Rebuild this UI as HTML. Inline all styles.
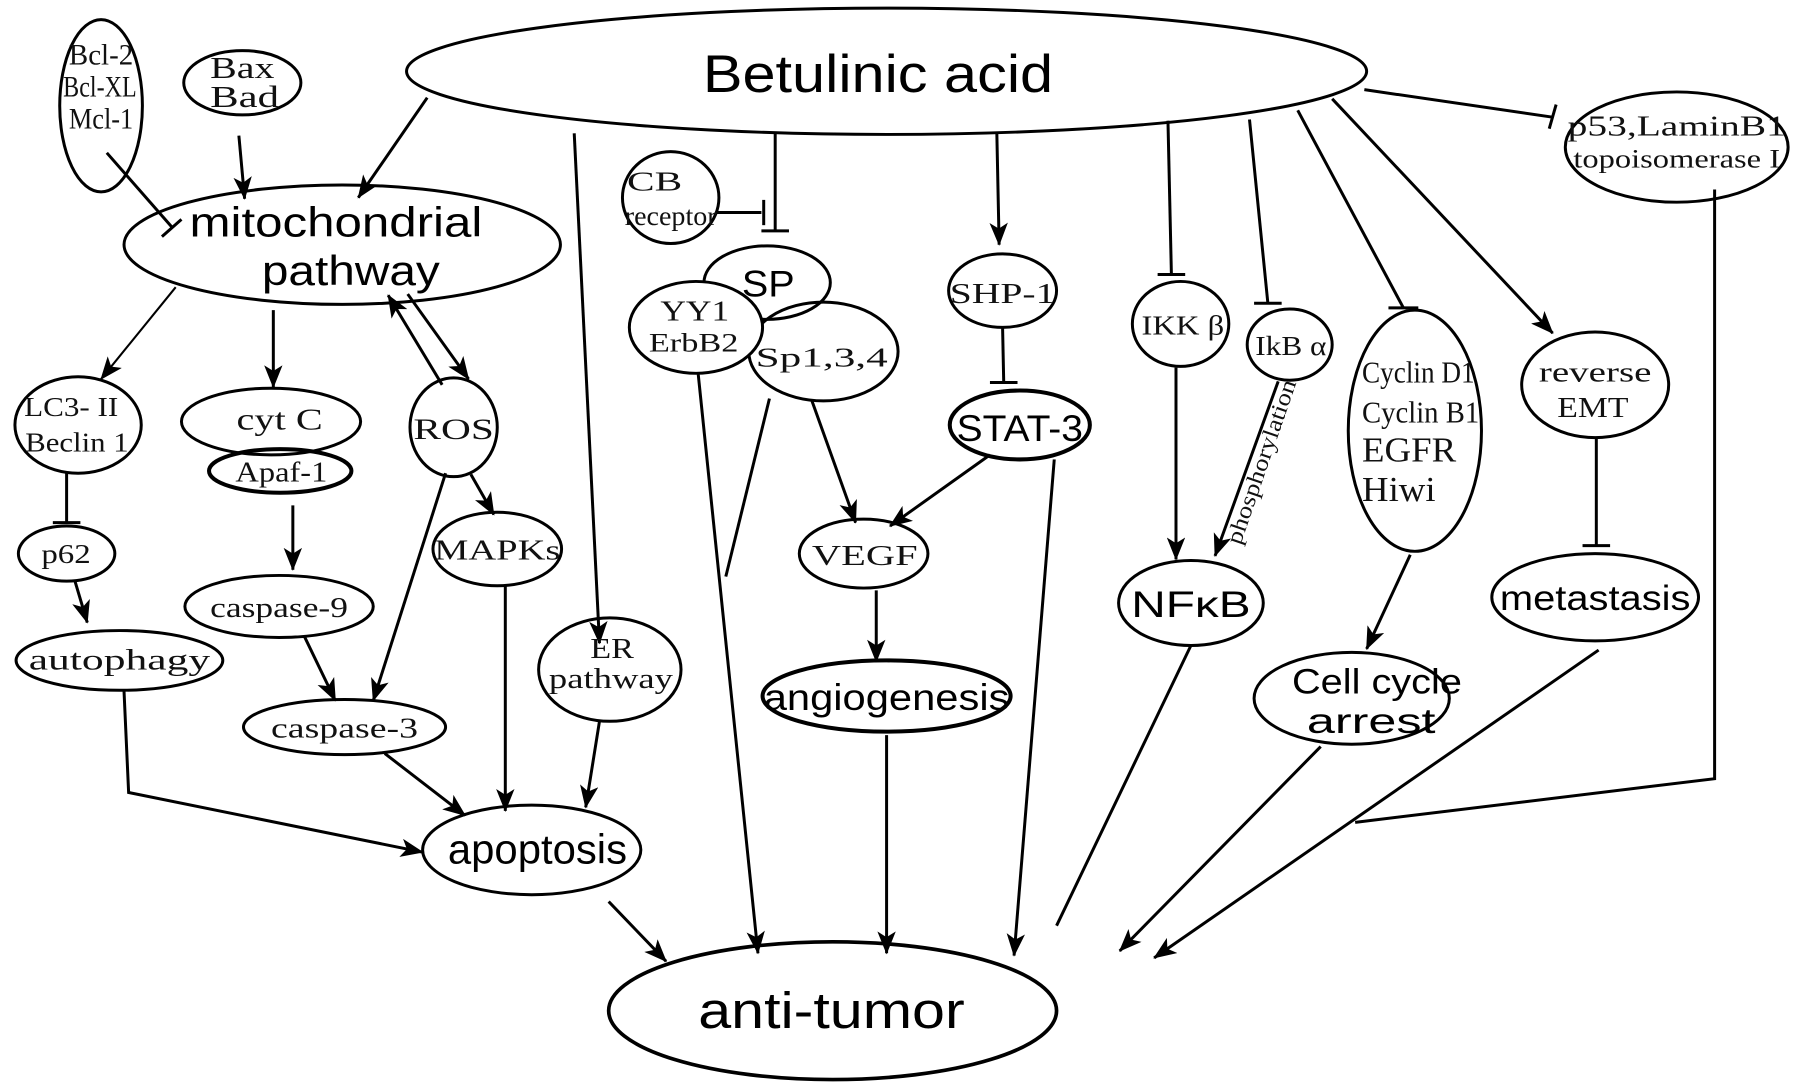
<!DOCTYPE html>
<html><head><meta charset="utf-8"><style>
html,body{margin:0;padding:0;background:#fff;}
svg{display:block;}
.s{font-family:"Liberation Serif",serif;fill:#111;}
.n{font-family:"Liberation Sans",sans-serif;fill:#000;}
</style></head><body>
<svg width="1795" height="1090" viewBox="0 0 1563 949" xmlns="http://www.w3.org/2000/svg">
<defs>
<marker id="a" viewBox="0 0 20 16" refX="19" refY="8" markerWidth="20" markerHeight="16" markerUnits="userSpaceOnUse" orient="auto">
<path d="M0,0 L20,8 L0,16 L5,8 Z" fill="#000"/></marker>
</defs>
<g fill="none" stroke="#000" stroke-width="2.6">
<ellipse cx="772" cy="62" rx="418" ry="55"/>
<ellipse cx="88" cy="92" rx="36" ry="75"/>
<ellipse cx="211" cy="72" rx="51" ry="28"/>
<ellipse cx="298" cy="213" rx="190" ry="52"/>
<ellipse cx="68" cy="370" rx="55" ry="42"/>
<ellipse cx="58" cy="482" rx="42" ry="24"/>
<ellipse cx="104" cy="575" rx="90" ry="26"/>
<ellipse cx="236" cy="367" rx="78" ry="29"/>
<ellipse cx="244" cy="410" rx="62" ry="19" stroke-width="3.5"/>
<ellipse cx="243" cy="528" rx="82" ry="27"/>
<ellipse cx="300" cy="633" rx="88" ry="24"/>
<ellipse cx="395" cy="372" rx="38" ry="43"/>
<ellipse cx="433" cy="478" rx="56" ry="32"/>
<ellipse cx="531" cy="583" rx="62" ry="45"/>
<ellipse cx="463" cy="740" rx="95" ry="39"/>
<ellipse cx="725" cy="880" rx="195" ry="60" stroke-width="3.2"/>
<ellipse cx="584" cy="172" rx="42" ry="40"/>
<ellipse cx="668" cy="246" rx="55" ry="32"/>
<ellipse cx="717" cy="306" rx="65" ry="43"/>
<ellipse cx="606" cy="285" rx="58" ry="40" fill="#fff"/>
<ellipse cx="873" cy="253" rx="47" ry="32"/>
<ellipse cx="888" cy="370" rx="61" ry="30" stroke-width="3.5"/>
<ellipse cx="752" cy="482" rx="56" ry="30"/>
<ellipse cx="772" cy="606" rx="108" ry="31" stroke-width="3.5"/>
<ellipse cx="1028" cy="282" rx="42" ry="37"/>
<ellipse cx="1123" cy="300" rx="37" ry="31"/>
<ellipse cx="1037" cy="525" rx="63" ry="37"/>
<ellipse cx="1232" cy="375" rx="58" ry="105"/>
<ellipse cx="1177" cy="608" rx="85" ry="40"/>
<ellipse cx="1389" cy="335" rx="64" ry="46"/>
<ellipse cx="1389" cy="520" rx="90" ry="38"/>
<ellipse cx="1460" cy="128" rx="97" ry="48"/>
<g marker-end="url(#a)">
<line x1="372" y1="85" x2="312" y2="172"/>
<line x1="208" y1="118" x2="213" y2="173"/>
<line x1="500" y1="116" x2="522" y2="560"/>
<line x1="868" y1="116" x2="870" y2="213"/>
<line x1="1160" y1="86" x2="1352" y2="290"/>
<line x1="153" y1="250" x2="88" y2="330" stroke-width="1.8"/>
<line x1="238" y1="270" x2="238" y2="337"/>
<line x1="385" y1="335" x2="338" y2="257"/>
<line x1="355" y1="256" x2="408" y2="330"/>
<line x1="65" y1="505" x2="76" y2="542"/>
<line x1="255" y1="440" x2="255" y2="496"/>
<line x1="265" y1="554" x2="292" y2="610"/>
<line x1="388" y1="412" x2="325" y2="610"/>
<line x1="410" y1="413" x2="430" y2="448"/>
<line x1="440" y1="510" x2="440" y2="706"/>
<line x1="335" y1="656" x2="405" y2="710"/>
<line x1="522" y1="628" x2="510" y2="703"/>
<polyline points="108,602 112,690 368,742"/>
<line x1="530" y1="785" x2="580" y2="837"/>
<line x1="608" y1="326" x2="660" y2="830"/>
<line x1="707" y1="349" x2="745" y2="455"/>
<line x1="862" y1="396" x2="775" y2="458"/>
<line x1="918" y1="400" x2="883" y2="832"/>
<line x1="763" y1="514" x2="763" y2="576"/>
<line x1="772" y1="640" x2="772" y2="830"/>
<line x1="1024" y1="320" x2="1024" y2="487"/>
<line x1="1113" y1="332" x2="1058" y2="484"/>
<line x1="1228" y1="483" x2="1190" y2="565"/>
<line x1="1150" y1="650" x2="975" y2="828"/>
<line x1="1392" y1="566" x2="1005" y2="834"/>
</g>
<line x1="93" y1="133" x2="150" y2="198"/><line x1="141" y1="206" x2="158" y2="191"/>
<line x1="675" y1="116" x2="675" y2="201"/><line x1="663" y1="201" x2="687" y2="201"/>
<line x1="624" y1="185" x2="663" y2="185"/><line x1="665" y1="174" x2="665" y2="196"/>
<line x1="873" y1="285" x2="874" y2="333"/><line x1="862" y1="333" x2="886" y2="333"/>
<line x1="1017" y1="105" x2="1020" y2="239"/><line x1="1008" y1="239" x2="1032" y2="239"/>
<line x1="1088" y1="104" x2="1104" y2="264"/><line x1="1092" y1="264" x2="1116" y2="264"/>
<line x1="1130" y1="96" x2="1222" y2="268"/><line x1="1209" y1="268" x2="1235" y2="268"/>
<line x1="1188" y1="78" x2="1352" y2="102"/><line x1="1349" y1="112" x2="1355" y2="91"/>
<polyline points="1493,165 1493,678 1180,716"/>
<line x1="58" y1="412" x2="58" y2="455"/><line x1="46" y1="455" x2="70" y2="455"/>
<line x1="670" y1="347" x2="632" y2="502"/>
<line x1="1037" y1="562" x2="920" y2="806"/>
<line x1="1390" y1="381" x2="1390" y2="475"/><line x1="1378" y1="475" x2="1402" y2="475"/>
</g>
<text class="n" x="612" y="80" font-size="46" textLength="305" lengthAdjust="spacingAndGlyphs">Betulinic acid</text>
<text class="s" x="60" y="56" font-size="26" textLength="56" lengthAdjust="spacingAndGlyphs">Bcl-2</text>
<text class="s" x="55" y="84" font-size="26" textLength="64" lengthAdjust="spacingAndGlyphs">Bcl-XL</text>
<text class="s" x="60" y="112" font-size="26" textLength="56" lengthAdjust="spacingAndGlyphs">Mcl-1</text>
<text class="s" x="183" y="68" font-size="27" textLength="56" lengthAdjust="spacingAndGlyphs">Bax</text>
<text class="s" x="183" y="93" font-size="27" textLength="60" lengthAdjust="spacingAndGlyphs">Bad</text>
<text class="n" x="165" y="206" font-size="36" textLength="255" lengthAdjust="spacingAndGlyphs">mitochondrial</text>
<text class="n" x="228" y="248" font-size="36" textLength="155" lengthAdjust="spacingAndGlyphs">pathway</text>
<text class="s" x="21" y="362" font-size="24" textLength="82" lengthAdjust="spacingAndGlyphs">LC3- II</text>
<text class="s" x="22" y="393" font-size="24" textLength="90" lengthAdjust="spacingAndGlyphs">Beclin 1</text>
<text class="s" x="36" y="490" font-size="24" textLength="43" lengthAdjust="spacingAndGlyphs">p62</text>
<text class="s" x="25" y="583" font-size="26" textLength="158" lengthAdjust="spacingAndGlyphs">autophagy</text>
<text class="s" x="206" y="374" font-size="27" textLength="75" lengthAdjust="spacingAndGlyphs">cyt C</text>
<text class="s" x="205" y="419" font-size="25" textLength="80" lengthAdjust="spacingAndGlyphs">Apaf-1</text>
<text class="s" x="183" y="537" font-size="25" textLength="120" lengthAdjust="spacingAndGlyphs">caspase-9</text>
<text class="s" x="236" y="642" font-size="25" textLength="128" lengthAdjust="spacingAndGlyphs">caspase-3</text>
<text class="s" x="360" y="382" font-size="26" textLength="70" lengthAdjust="spacingAndGlyphs">ROS</text>
<text class="s" x="378" y="487" font-size="25" textLength="110" lengthAdjust="spacingAndGlyphs">MAPKs</text>
<text class="s" x="514" y="573" font-size="25" textLength="38" lengthAdjust="spacingAndGlyphs">ER</text>
<text class="s" x="478" y="599" font-size="25" textLength="108" lengthAdjust="spacingAndGlyphs">pathway</text>
<text class="n" x="390" y="752" font-size="36" textLength="156" lengthAdjust="spacingAndGlyphs">apoptosis</text>
<text class="n" x="608" y="895" font-size="44" textLength="232" lengthAdjust="spacingAndGlyphs">anti-tumor</text>
<text class="s" x="546" y="166" font-size="24" textLength="48" lengthAdjust="spacingAndGlyphs">CB</text>
<text class="s" x="544" y="196" font-size="24" textLength="80" lengthAdjust="spacingAndGlyphs">receptor</text>
<text class="n" x="646" y="258" font-size="32" textLength="46" lengthAdjust="spacingAndGlyphs">SP</text>
<text class="s" x="575" y="279" font-size="25" textLength="60" lengthAdjust="spacingAndGlyphs">YY1</text>
<text class="s" x="565" y="306" font-size="23" textLength="78" lengthAdjust="spacingAndGlyphs">ErbB2</text>
<text class="s" x="658" y="319" font-size="24" textLength="115" lengthAdjust="spacingAndGlyphs">Sp1,3,4</text>
<text class="s" x="827" y="264" font-size="25" textLength="92" lengthAdjust="spacingAndGlyphs">SHP-1</text>
<text class="n" x="833" y="384" font-size="32" textLength="110" lengthAdjust="spacingAndGlyphs">STAT-3</text>
<text class="s" x="707" y="492" font-size="25" textLength="92" lengthAdjust="spacingAndGlyphs">VEGF</text>
<text class="n" x="665" y="618" font-size="32" textLength="214" lengthAdjust="spacingAndGlyphs">angiogenesis</text>
<text class="s" x="994" y="291" font-size="24" textLength="72" lengthAdjust="spacingAndGlyphs">IKK β</text>
<text class="s" x="1093" y="309" font-size="24" textLength="62" lengthAdjust="spacingAndGlyphs">IkB α</text>
<text class="s" font-size="20" transform="translate(1080,475) rotate(-71)" textLength="150" lengthAdjust="spacingAndGlyphs" x="0" y="0">phosphorylation</text>
<text class="n" x="985" y="537" font-size="32" textLength="104" lengthAdjust="spacingAndGlyphs">NFκB</text>
<text class="s" x="1186" y="333" font-size="27" textLength="98" lengthAdjust="spacingAndGlyphs">Cyclin D1</text>
<text class="s" x="1186" y="368" font-size="27" textLength="102" lengthAdjust="spacingAndGlyphs">Cyclin B1</text>
<text class="s" x="1186" y="402" font-size="30" textLength="82" lengthAdjust="spacingAndGlyphs">EGFR</text>
<text class="s" x="1186" y="436" font-size="30" textLength="64" lengthAdjust="spacingAndGlyphs">Hiwi</text>
<text class="n" x="1125" y="604" font-size="31" textLength="148" lengthAdjust="spacingAndGlyphs">Cell cycle</text>
<text class="n" x="1138" y="638" font-size="31" textLength="112" lengthAdjust="spacingAndGlyphs">arrest</text>
<text class="s" x="1340" y="332" font-size="25" textLength="98" lengthAdjust="spacingAndGlyphs">reverse</text>
<text class="s" x="1356" y="363" font-size="25" textLength="62" lengthAdjust="spacingAndGlyphs">EMT</text>
<text class="n" x="1306" y="531" font-size="31" textLength="166" lengthAdjust="spacingAndGlyphs">metastasis</text>
<text class="s" x="1365" y="118" font-size="25" textLength="190" lengthAdjust="spacingAndGlyphs">p53,LaminB1</text>
<text class="s" x="1370" y="146" font-size="23" textLength="180" lengthAdjust="spacingAndGlyphs">topoisomerase I</text>
</svg>
</body></html>
